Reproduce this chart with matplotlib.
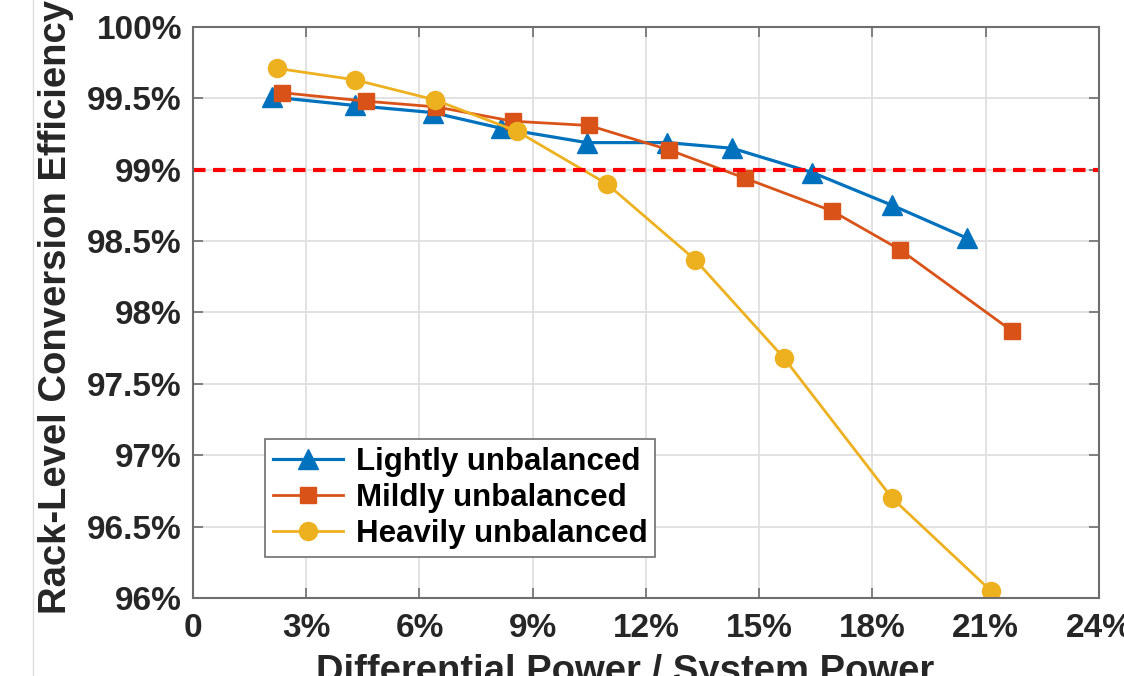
import matplotlib
matplotlib.use("Agg")
import matplotlib.pyplot as plt
from matplotlib.lines import Line2D
from matplotlib.ticker import FuncFormatter

plt.rcParams['font.family'] = ['Liberation Sans', 'DejaVu Sans']

# data (x in %, y in %)
light_x = [2.09, 4.29, 6.36, 8.17, 10.43, 12.57, 14.29, 16.41, 18.53, 20.51]
light_y = [99.51, 99.45, 99.40, 99.29, 99.19, 99.19, 99.15, 98.98, 98.75, 98.52]

mild_x = [2.35, 4.59, 6.45, 8.47, 10.49, 12.60, 14.63, 16.94, 18.73, 21.70]
mild_y = [99.54, 99.48, 99.44, 99.34, 99.31, 99.14, 98.94, 98.71, 98.44, 97.87]

heavy_x = [2.23, 4.29, 6.40, 8.58, 10.97, 13.30, 15.66, 18.52, 21.14]
heavy_y = [99.71, 99.63, 99.49, 99.27, 98.90, 98.37, 97.68, 96.70, 96.05]

target = 99.0
x_ticks = [0, 3, 6, 9, 12, 15, 18, 21, 24]
y_ticks = [96, 96.5, 97, 97.5, 98, 98.5, 99, 99.5, 100]
labels = ['Lightly unbalanced', 'Mildly unbalanced', 'Heavily unbalanced']

fig = plt.figure(figsize=(11.24, 6.76), dpi=100)
ax = fig.add_axes([0.1717, 0.1154, 0.8060, 0.8447])

ax.plot(light_x, light_y, '-^', color='#0072BD', lw=2.3, ms=15, mew=1, label=labels[0])
ax.plot(mild_x, mild_y, '-s', color='#D95319', lw=2.0, ms=11, mew=1, label=labels[1])
ax.plot(heavy_x, heavy_y, '-o', color='#EDB120', lw=2.0, ms=13, mew=1, label=labels[2])
ax.axhline(target, color='#FF0000', lw=3, dashes=(3, 1.8))

ax.set_xlim(0, 24)
ax.set_ylim(96, 100)
ax.set_xticks(x_ticks)
ax.set_yticks(y_ticks)

def pct(v, pos):
    if v == 0:
        return '0'
    return ('%g' % v) + '%'

ax.xaxis.set_major_formatter(FuncFormatter(pct))
ax.yaxis.set_major_formatter(FuncFormatter(pct))

ax.grid(True, color='#dfdfdf', lw=1.3)
ax.set_axisbelow(True)
for s in ax.spines.values():
    s.set_color('#6e6e6e')
    s.set_linewidth(1.5)
ax.tick_params(direction='in', length=7, width=1.2, color='#6e6e6e',
               top=True, right=True, labelsize=24, labelcolor='#262626')
ax.tick_params(axis='y', pad=8)
ax.tick_params(axis='x', pad=11)
for t in ax.get_xticklabels() + ax.get_yticklabels():
    t.set_fontweight('bold')

ax.set_ylabel('Rack-Level Conversion Efficiency', fontsize=27.5, fontweight='bold', color='#262626')
ax.yaxis.set_label_coords(-0.131, 0.51)
ax.set_xlabel('Differential Power / System Power', fontsize=27.5, fontweight='bold', color='#262626')
ax.xaxis.set_label_coords(0.477, -0.098)

leg = ax.legend(loc='lower left', bbox_to_anchor=(0.0795, 0.0718), borderaxespad=0,
                fancybox=False, framealpha=1, edgecolor='#6e6e6e',
                prop={'size': 22.5, 'weight': 'bold'}, handlelength=2.25,
                handletextpad=0.4, labelspacing=0.2, borderpad=0.25)
leg.get_frame().set_linewidth(1.2)

fig.add_artist(Line2D([33 / 1124, 33 / 1124], [0, 1], transform=fig.transFigure,
                      color='#dcdcdc', lw=1))

fig.savefig('out.png', dpi=100)
